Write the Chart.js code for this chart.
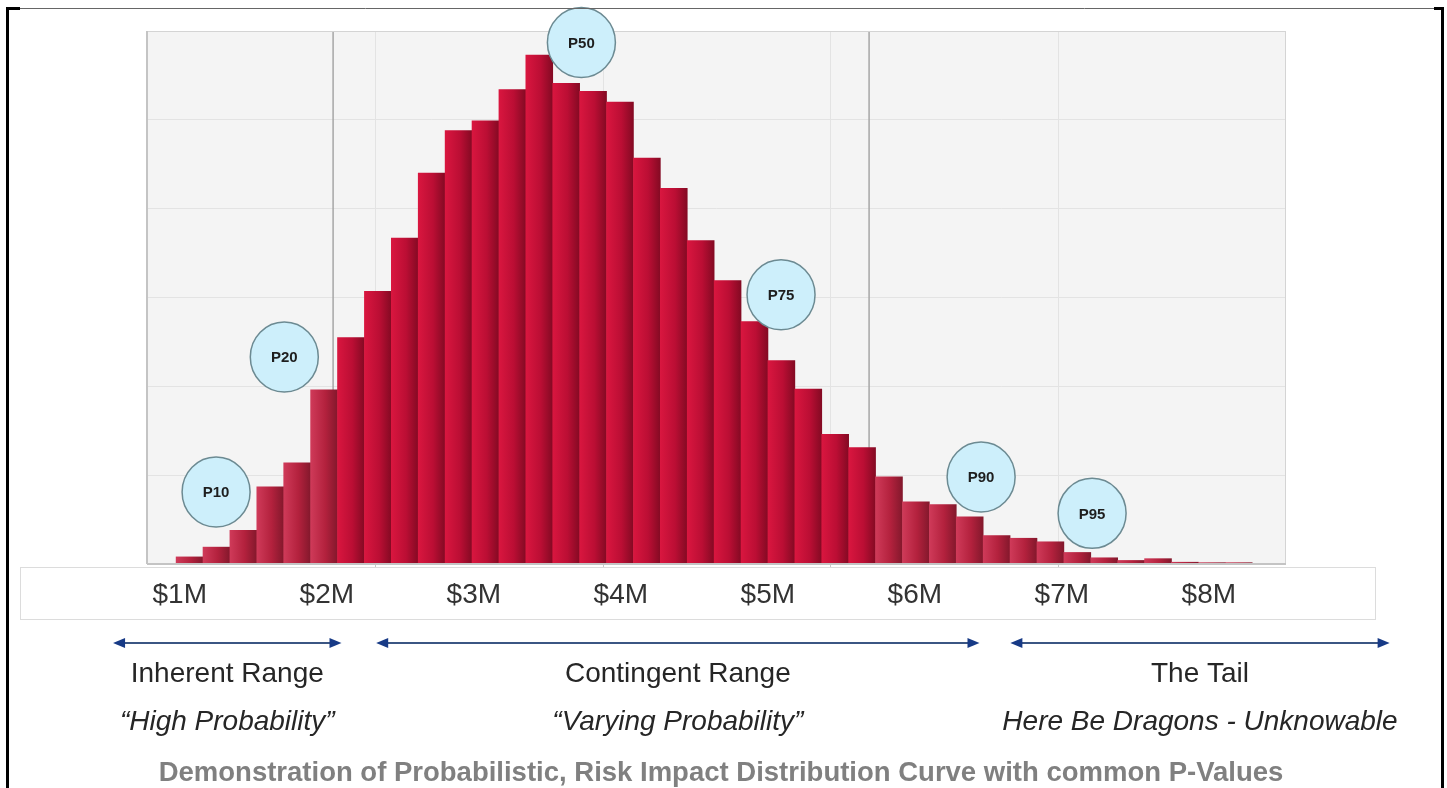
<!DOCTYPE html>
<html>
<head>
<meta charset="utf-8">
<title>Risk Impact Distribution</title>
<script src="https://cdn.jsdelivr.net/npm/chart.js@4.4.1/dist/chart.umd.min.js"></script>
<style>
  html, body { margin: 0; padding: 0; background: #fff; }
  #wrap { width: 1447px; height: 788px; position: relative; }
</style>
</head>
<body>
<div id="wrap"><canvas id="myChart"></canvas></div>
<script>
// histogram bins, in $M
const binStart = 0.975;
const binWidth = 0.183;
// bar heights (grid units, 6 = top of plot)
const frequency = [0.08, 0.19, 0.38, 0.87, 1.14, 1.96, 2.55, 3.07, 3.67, 4.40,
                   4.88, 4.99, 5.34, 5.73, 5.41, 5.32, 5.20, 4.57, 4.23, 3.64,
                   3.19, 2.73, 2.29, 1.97, 1.46, 1.31, 0.98, 0.70, 0.67, 0.53,
                   0.32, 0.29, 0.25, 0.13, 0.07, 0.04, 0.06, 0.02, 0.015, 0.015];
const tickValues = [1, 2, 3, 4, 5, 6, 7, 8];
const tickLabels = ['$1M', '$2M', '$3M', '$4M', '$5M', '$6M', '$7M', '$8M'];

const rangeNames = ['Inherent Range', 'Contingent Range', 'The Tail'];
const rangeNotes = ['\u201CHigh Probability\u201D', '\u201CVarying Probability\u201D', 'Here Be Dragons - Unknowable'];
const rangeFrom = [0.546, 2.336, 6.65];
const rangeTo = [2.10, 6.44, 9.23];
const rangeBreaks = [2.043, 5.689];

const pLabels = ['P10', 'P20', 'P50', 'P75', 'P90', 'P95'];
const pX = [1.247, 1.711, 3.732, 5.09, 6.451, 7.206];
const pY = [0.81, 2.33, 5.87, 3.03, 0.98, 0.57];

const caption = 'Demonstration of Probabilistic, Risk Impact Distribution Curve with common P-Values';

const FONT = '"Liberation Sans", Arial, sans-serif';

function barColor(c) {
    const chart = c.chart;
    const xs = chart.scales.x;
    const lo = binStart + c.dataIndex * binWidth;
    const mid = lo + binWidth / 2;
    const faded = mid < rangeBreaks[0] || mid > rangeBreaks[1];
    if (!chart.chartArea || !xs) return faded ? '#b9233f' : '#bd0f35';
    const x0 = xs.getPixelForValue(lo);
    const x1 = xs.getPixelForValue(lo + binWidth);
    if (!isFinite(x0) || !isFinite(x1)) return faded ? '#b9233f' : '#bd0f35';
    const g = chart.ctx.createLinearGradient(x0, 0, x1, 0);
    if (faded) {
        g.addColorStop(0, '#cf3a59');
        g.addColorStop(0.55, '#b3213d');
        g.addColorStop(1, '#83182c');
    } else {
        g.addColorStop(0, '#d9163f');
        g.addColorStop(0.55, '#bb0e34');
        g.addColorStop(1, '#840a23');
    }
    return g;
}

function line(ctx, x1, y1, x2, y2) {
    ctx.beginPath();
    ctx.moveTo(x1, y1);
    ctx.lineTo(x2, y2);
    ctx.stroke();
}

const decor = {
    id: 'decor',
    beforeDraw(chart) {
        const { ctx, chartArea: a } = chart;
        ctx.save();
        ctx.fillStyle = '#f4f4f4';
        ctx.fillRect(a.left, a.top, a.width, a.height);
        // vertical grid of the source chart: five equal steps
        ctx.lineWidth = 1;
        for (let k = 1; k < 5; k++) {
            const px = Math.round(a.left + a.width * k / 5) + 0.5;
            ctx.strokeStyle = '#e3e3e3';
            line(ctx, px, a.top, px, a.bottom);
            ctx.strokeStyle = '#c8c8c8';
            line(ctx, px, a.bottom, px, a.bottom + 5);
        }
        // white label band under the plot
        ctx.fillStyle = '#ffffff';
        ctx.fillRect(20, a.bottom + 3, 1355, 52);
        ctx.strokeStyle = '#dcdcdc';
        ctx.strokeRect(20.5, a.bottom + 3.5, 1355, 52);
        ctx.restore();
    },
    beforeDatasetsDraw(chart) {
        const { ctx, chartArea: a, scales: { x } } = chart;
        ctx.save();
        ctx.strokeStyle = '#a6a6a6';
        ctx.lineWidth = 1.5;
        rangeBreaks.forEach(v => {
            const px = x.getPixelForValue(v);
            line(ctx, px, a.top, px, a.bottom);
        });
        ctx.restore();
    },
    afterDraw(chart) {
        const { ctx, chartArea: a, scales: { x, y } } = chart;
        ctx.save();
        // plot frame
        ctx.strokeStyle = '#d4d4d4';
        ctx.lineWidth = 1;
        ctx.strokeRect(a.left + 0.5, a.top + 0.5, a.width - 1, a.height);
        ctx.strokeStyle = '#c4c4c4';
        ctx.lineWidth = 2;
        line(ctx, a.left, a.top, a.left, a.bottom);
        line(ctx, a.left, a.bottom, a.right, a.bottom);

        // P-value circles
        pLabels.forEach((lab, i) => {
            const cx = x.getPixelForValue(pX[i]);
            const cy = y.getPixelForValue(pY[i]);
            ctx.beginPath();
            ctx.ellipse(cx, cy, 34, 35, 0, 0, Math.PI * 2);
            ctx.fillStyle = '#cdeffb';
            ctx.fill();
            ctx.lineWidth = 1.5;
            ctx.strokeStyle = '#6c8a92';
            ctx.stroke();
            ctx.fillStyle = '#1e1e1e';
            ctx.font = 'bold 15px ' + FONT;
            ctx.textAlign = 'center';
            ctx.textBaseline = 'middle';
            ctx.fillText(lab, cx, cy + 1);
        });

        // range arrows and labels
        const ay = 643;
        rangeNames.forEach((name, i) => {
            const x1 = x.getPixelForValue(rangeFrom[i]);
            const x2 = x.getPixelForValue(rangeTo[i]);
            ctx.strokeStyle = '#3b5683';
            ctx.lineWidth = 2;
            line(ctx, x1 + 6, ay, x2 - 6, ay);
            ctx.fillStyle = '#173a86';
            ctx.beginPath();
            ctx.moveTo(x1, ay); ctx.lineTo(x1 + 12, ay - 5); ctx.lineTo(x1 + 12, ay + 5);
            ctx.closePath(); ctx.fill();
            ctx.beginPath();
            ctx.moveTo(x2, ay); ctx.lineTo(x2 - 12, ay - 5); ctx.lineTo(x2 - 12, ay + 5);
            ctx.closePath(); ctx.fill();
            const cx = (x1 + x2) / 2;
            ctx.fillStyle = '#262626';
            ctx.textAlign = 'center';
            ctx.textBaseline = 'middle';
            ctx.font = '28px ' + FONT;
            ctx.fillText(name, cx, 674);
            ctx.font = 'italic 28px ' + FONT;
            ctx.fillText(rangeNotes[i], cx, 722);
        });

        // caption
        ctx.fillStyle = '#808080';
        ctx.font = 'bold 27.5px ' + FONT;
        ctx.textAlign = 'center';
        ctx.textBaseline = 'middle';
        ctx.fillText(caption, 721, 773);

        // outer frame
        ctx.strokeStyle = '#666';
        ctx.lineWidth = 1;
        line(ctx, 6, 8.5, 1444, 8.5);
        ctx.fillStyle = '#000';
        ctx.fillRect(6, 7, 14, 3);
        ctx.fillRect(1434, 7, 10, 3);
        ctx.fillRect(6, 7, 3, 781);
        ctx.fillRect(1441, 7, 3, 781);
        ctx.restore();
    }
};

document.addEventListener('DOMContentLoaded', function() {
    const ctx = document.getElementById('myChart').getContext('2d');
    new Chart(ctx, {
        type: 'bar',
        plugins: [decor],
        data: {
            datasets: [{
                data: frequency.map((v, i) => ({ x: binStart + (i + 0.5) * binWidth, y: v })),
                backgroundColor: barColor,
                borderWidth: 0,
                barPercentage: 1,
                categoryPercentage: 1
            }]
        },
        options: {
            responsive: true,
            maintainAspectRatio: false,
            animation: false,
            events: [],
            layout: { padding: { left: 147, right: 161, top: 31, bottom: 164 } },
            plugins: {
                legend: { display: false },
                tooltip: { enabled: false }
            },
            scales: {
                x: {
                    type: 'linear',
                    min: 0.777,
                    max: 8.525,
                    offset: false,
                    afterBuildTicks: (scale) => { scale.ticks = tickValues.map(v => ({ value: v })); },
                    afterFit: (scale) => { scale.height = 60; },
                    grid: { display: false, drawTicks: false },
                    border: { display: false },
                    ticks: {
                        autoSkip: false,
                        maxRotation: 0,
                        padding: 14,
                        color: '#333333',
                        font: { family: FONT, size: 28 },
                        callback: (v, i) => tickLabels[i]
                    }
                },
                y: {
                    min: 0,
                    max: 6,
                    afterFit: (scale) => { scale.width = 0; },
                    grid: { color: '#e3e3e3', drawTicks: false },
                    border: { display: false },
                    ticks: { display: false, stepSize: 1 }
                }
            }
        }
    });
});
</script>
</body>
</html>
